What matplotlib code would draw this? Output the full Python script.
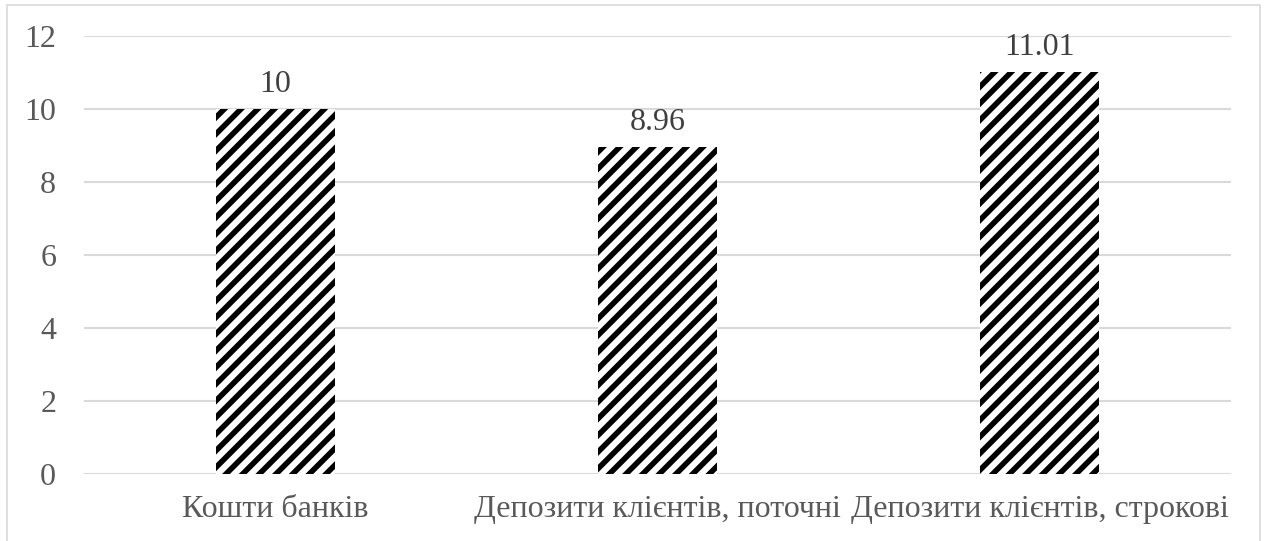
import matplotlib
matplotlib.use("Agg")
import matplotlib.pyplot as plt
from matplotlib.patches import Rectangle

categories = ["Кошти банків", "Депозити клієнтів, поточні", "Депозити клієнтів, строкові"]
values = [10, 8.96, 11.01]
value_labels = ["10", "8.96", "11.01"]
y_ticks = [0, 2, 4, 6, 8, 10, 12]

plt.rcParams["font.family"] = ["Liberation Serif", "DejaVu Serif"]
plt.rcParams["hatch.linewidth"] = 4.0

fig = plt.figure(figsize=(12.67, 5.41), dpi=100)
ax = fig.add_axes([84 / 1267, 1 - 474 / 541, (1231 - 84) / 1267, (474 - 36) / 541])

x = list(range(len(categories)))
ax.bar(x, values, width=0.312, color="white", edgecolor="black", linewidth=0,
       hatch="//", zorder=3)

for xi, v, lab in zip(x, values, value_labels):
    ax.annotate(lab, (xi, v), xytext=(0, 12.5), textcoords="offset points",
                ha="center", va="baseline", fontsize=23, color="#404040", zorder=4)

ax.set_xlim(-0.5, 2.5)
ax.set_ylim(0, 12)
ax.set_yticks(y_ticks)
ax.set_yticklabels([str(t) for t in y_ticks])
ax.set_xticks(x)
ax.set_xticklabels(categories)
ax.tick_params(axis="y", length=0, pad=20, labelsize=23, labelcolor="#595959")
ax.tick_params(axis="x", length=0, pad=15, labelsize=23, labelcolor="#595959")
ax.grid(axis="y", color="#d9d9d9", linewidth=1.5, zorder=0)
ax.set_axisbelow(True)
for s in ax.spines.values():
    s.set_visible(False)

fig.patches.append(Rectangle((7 / 1267, -0.05), (1260 - 7) / 1267, 1.05 - 5 / 541,
                             transform=fig.transFigure, fill=False,
                             edgecolor="#d9d9d9", linewidth=1.2, zorder=0))

fig.savefig("out.png", dpi=100)
